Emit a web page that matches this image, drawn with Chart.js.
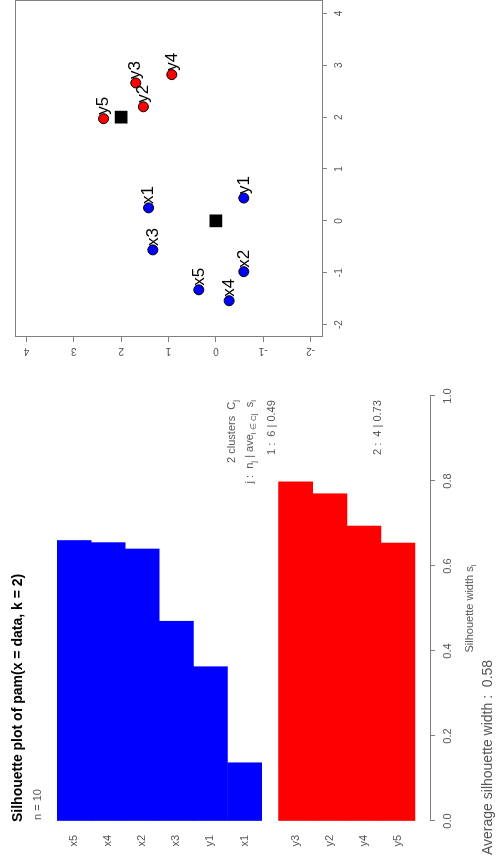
<!DOCTYPE html>
<html>
<head>
<meta charset="utf-8">
<script src="https://cdn.jsdelivr.net/npm/chart.js@4.4.0/dist/chart.umd.min.js"></script>
<style>
  html, body { margin: 0; padding: 0; background: #fff; overflow: hidden; }
  /* the whole figure is drawn landscape, then turned a quarter left */
  #fig { position: absolute; left: 0; top: 0; width: 861px; height: 496px;
         transform-origin: 0 0; transform: translate(0, 861px) rotate(-90deg); }
  #fig canvas { position: absolute; top: 0; }
  #silCanvas { left: 0; }
  #pamCanvas { left: 480px; }
</style>
</head>
<body>
<div id="fig">
  <canvas id="silCanvas" width="500" height="496"></canvas>
  <canvas id="pamCanvas" width="381" height="496"></canvas>
</div>
<script>
// silhouette widths, in the order R draws them (sorted inside each cluster)
const silNames = ['x5', 'x4', 'x2', 'x3', 'y1', 'x1', 'y3', 'y2', 'y4', 'y5'];
const silCluster = [1, 1, 1, 1, 1, 1, 2, 2, 2, 2];
const silWidth = [0.66, 0.655, 0.64, 0.47, 0.363, 0.137, 0.798, 0.77, 0.694, 0.654];
const silTicks = [0, 0.2, 0.4, 0.6, 0.8, 1.0];

// pam scatter: observations and the two medoids
const obsNames = ['x1', 'x2', 'x3', 'x4', 'x5', 'y1', 'y2', 'y3', 'y4', 'y5'];
const obsX = [0.25, -0.98, -0.56, -1.54, -1.33, 0.44, 2.20, 2.66, 2.82, 1.97];
const obsY = [1.42, -0.59, 1.33, -0.28, 0.36, -0.59, 1.53, 1.69, 0.93, 2.37];
const obsCluster = [1, 1, 1, 1, 1, 1, 2, 2, 2, 2];
const medoidX = [0, 2];
const medoidY = [0, 2];
const pamTicks = [-2, -1, 0, 1, 2, 3, 4];

const clusterColors = ['#0000ff', '#ff0000'];
const FONT = "'Liberation Sans', Arial, sans-serif";
const TXT = '#555';
const LINE = '#808080';

// bars of one cluster touch, half a bar of space between clusters
const silPos = silNames.map((n, i) => i + 0.5 * (silCluster[i] - 1));

const stats = [1, 2].map(c => {
  const w = silWidth.filter((v, i) => silCluster[i] === c);
  return { id: c, n: w.length, avg: w.reduce((a, b) => a + b, 0) / w.length };
});
const avgAll = silWidth.reduce((a, b) => a + b, 0) / silWidth.length;

// text with subscripts: parts = [[text, isSub], ...]
function drawRich(ctx, parts, x, y, size, align) {
  const main = size + 'px ' + FONT;
  const sub = Math.round(size * 0.75) + 'px ' + FONT;
  let w = 0;
  parts.forEach(([t, s]) => { ctx.font = s ? sub : main; w += ctx.measureText(t).width; });
  let cx = align === 'right' ? x - w : align === 'center' ? x - w / 2 : x;
  ctx.textAlign = 'left';
  ctx.textBaseline = 'middle';
  parts.forEach(([t, s]) => {
    ctx.font = s ? sub : main;
    ctx.fillText(t, cx, y + (s ? size * 0.3 : 0));
    cx += ctx.measureText(t).width;
  });
}

const silText = {
  id: 'silText',
  afterDraw(chart) {
    const ctx = chart.ctx;
    ctx.save();
    ctx.fillStyle = '#000';
    ctx.font = 'bold 14px ' + FONT;
    ctx.textAlign = 'left';
    ctx.textBaseline = 'middle';
    ctx.fillText('Silhouette plot of pam(x = data, k = 2)', 39, 18);
    ctx.fillStyle = TXT;
    drawRich(ctx, [['n = ' + silNames.length, 0]], 41, 38, 11, 'left');
    drawRich(ctx, [[stats.length + ' clusters  C', 0], ['j', 1]], 461, 232, 11, 'right');
    drawRich(ctx, [['j :  n', 0], ['j', 1], [' | ave', 0], ['i \u2208 Cj', 1], ['  s', 0], ['i', 1]], 461, 250, 11, 'right');
    const statY = [272, 378];
    stats.forEach((s, k) => {
      drawRich(ctx, [[s.id + ' :  ' + s.n + ' | ' + s.avg.toFixed(2), 0]], 406, statY[k], 11, 'left');
    });
    drawRich(ctx, [['Silhouette width s', 0], ['i', 1]], (chart.chartArea.left + chart.chartArea.right) / 2, 470, 11, 'center');
    drawRich(ctx, [['Average silhouette width :  ' + avgAll.toFixed(2), 0]], 6, 488, 14, 'left');
    ctx.restore();
  }
};

new Chart(document.getElementById('silCanvas'), {
  type: 'bar',
  data: {
    datasets: [{
      data: silWidth.map((w, i) => ({ x: w, y: silPos[i] })),
      backgroundColor: silCluster.map(c => clusterColors[c - 1]),
      borderWidth: 0,
      barPercentage: 1,
      categoryPercentage: 1
    }]
  },
  options: {
    indexAxis: 'y',
    responsive: false,
    animation: false,
    layout: { autoPadding: false, padding: { top: 57, right: 35, bottom: 0, left: 0 } },
    plugins: { legend: { display: false }, tooltip: { enabled: false } },
    scales: {
      x: {
        type: 'linear', position: 'bottom', min: 0, max: 1, offset: false,
        afterBuildTicks: s => { s.ticks = silTicks.map(v => ({ value: v })); },
        afterFit: s => { s.height = 66; },
        grid: { drawOnChartArea: false, drawTicks: true, tickLength: 5, color: LINE },
        border: { display: true, color: LINE },
        ticks: { padding: 6, color: TXT, font: { family: FONT, size: 11 }, callback: v => v.toFixed(1) }
      },
      y: {
        type: 'linear', position: 'left', min: -0.5, max: 10.44, reverse: true, offset: false,
        afterBuildTicks: s => { s.ticks = silPos.map(v => ({ value: v })); },
        afterFit: s => { s.width = 40; },
        grid: { display: false, drawTicks: false, offset: false },
        border: { display: false },
        ticks: { autoSkip: false, padding: 14, color: TXT, font: { family: FONT, size: 11 },
                 callback: (v, i) => silNames[i] }
      }
    }
  },
  plugins: [silText]
});

const pamDecor = {
  id: 'pamDecor',
  afterDraw(chart) {
    const ctx = chart.ctx;
    const a = chart.chartArea;
    ctx.save();
    ctx.strokeStyle = LINE;
    ctx.lineWidth = 1;
    ctx.strokeRect(Math.round(a.left) + 0.5, Math.round(a.top) + 0.5,
                   Math.round(a.right - a.left), Math.round(a.bottom - a.top));
    // y tick labels run along the axis, as in R
    const ys = chart.scales.y;
    ctx.fillStyle = TXT;
    ctx.font = '10px ' + FONT;
    ctx.textAlign = 'center';
    ctx.textBaseline = 'middle';
    ys.ticks.forEach(t => {
      ctx.save();
      ctx.translate(a.left - 14, ys.getPixelForValue(t.value));
      ctx.rotate(-Math.PI / 2);
      ctx.fillText(String(t.value), 0, 0);
      ctx.restore();
    });
    // point names to the right of each point
    ctx.fillStyle = '#000';
    ctx.font = '17px ' + FONT;
    ctx.textAlign = 'left';
    chart.getDatasetMeta(0).data.forEach((el, i) => {
      ctx.fillText(obsNames[i], el.x + 4, el.y);
    });
    ctx.restore();
  }
};

new Chart(document.getElementById('pamCanvas'), {
  type: 'scatter',
  data: {
    datasets: [
      {
        data: obsX.map((x, i) => ({ x: x, y: obsY[i] })),
        pointStyle: 'circle',
        pointRadius: 5,
        pointBackgroundColor: obsCluster.map(c => clusterColors[c - 1]),
        pointBorderColor: '#000',
        pointBorderWidth: 1
      },
      {
        data: medoidX.map((x, i) => ({ x: x, y: medoidY[i] })),
        pointStyle: 'rect',
        pointRadius: 9,
        pointBackgroundColor: '#000',
        pointBorderColor: '#000',
        pointBorderWidth: 0
      }
    ]
  },
  options: {
    responsive: false,
    animation: false,
    layout: { autoPadding: false, padding: { top: 15, right: 1, bottom: 0, left: 0 } },
    plugins: { legend: { display: false }, tooltip: { enabled: false } },
    scales: {
      x: {
        type: 'linear', position: 'bottom', min: -2.24, max: 4.24,
        afterBuildTicks: s => { s.ticks = pamTicks.map(v => ({ value: v })); },
        afterFit: s => { s.height = 174; s.paddingLeft = 0; s.paddingRight = 0; },
        grid: { drawOnChartArea: false, drawTicks: true, tickLength: 5, color: LINE },
        border: { display: false },
        ticks: { padding: 6, color: TXT, font: { family: FONT, size: 10 }, callback: v => String(v) }
      },
      y: {
        type: 'linear', position: 'left', min: -2.24, max: 4.24,
        afterBuildTicks: s => { s.ticks = pamTicks.map(v => ({ value: v })); },
        afterFit: s => { s.width = 44; s.paddingTop = 0; s.paddingBottom = 0; },
        grid: { drawOnChartArea: false, drawTicks: true, tickLength: 5, color: LINE },
        border: { display: false },
        ticks: { display: false }
      }
    }
  },
  plugins: [pamDecor]
});
</script>
</body>
</html>
